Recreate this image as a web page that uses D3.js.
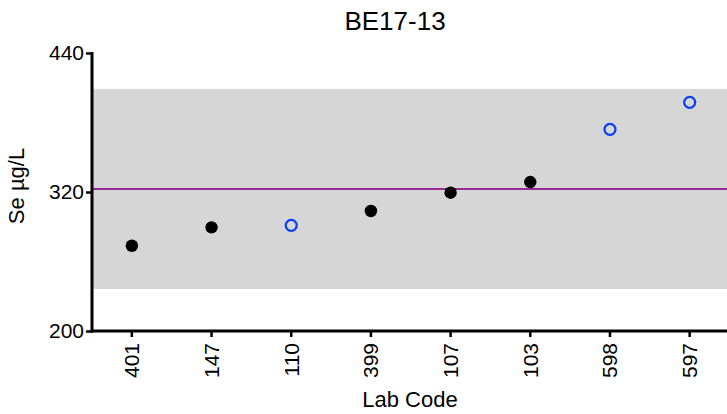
<!DOCTYPE html>
<html><head><meta charset="utf-8">
<script src="https://cdn.jsdelivr.net/npm/d3@7"></script>
<style>body{margin:0;background:#fff}svg{display:block;font-family:"Liberation Sans",Arial,sans-serif}</style>
</head><body><svg id="c" width="727" height="414"></svg>
<script>
const labCodes = ["401","147","110","399","107","103","598","597"];
const values = [273.6, 289.5, 291.2, 303.6, 319.4, 328.6, 374.1, 397.4];
const outlier = [false, false, true, false, false, false, true, true];
const yTicks = [200, 320, 440];
const assigned = 322.6;
const bandLow = 236.3, bandHigh = 409;

const svg = d3.select("#c");
const m = {l:92, r:729.5, t:53, b:331};
const x = d3.scaleBand().domain(labCodes).range([m.l, m.r]);
const y = d3.scaleLinear().domain([200, 440]).range([m.b, m.t]);
const FF = "Liberation Sans, Arial, sans-serif";

svg.append("rect").attr("x", m.l).attr("width", m.r - m.l)
  .attr("y", y(bandHigh)).attr("height", y(bandLow) - y(bandHigh)).attr("fill", "#d6d6d6");
svg.append("line").attr("x1", m.l).attr("x2", 727).attr("y1", y(assigned)).attr("y2", y(assigned))
  .attr("stroke", "#9a2a9a").attr("stroke-width", 2);

const pts = labCodes.map((c,i)=>({c, v:values[i], o:outlier[i]}));
svg.selectAll("circle.f").data(pts.filter(d=>!d.o)).join("circle")
  .attr("cx", d=>x(d.c)+x.bandwidth()/2).attr("cy", d=>y(d.v)).attr("r", 6.2).attr("fill", "#000");
svg.selectAll("circle.o").data(pts.filter(d=>d.o)).join("circle")
  .attr("cx", d=>x(d.c)+x.bandwidth()/2).attr("cy", d=>y(d.v)).attr("r", 5.5)
  .attr("fill", "none").attr("stroke", "#0a3cff").attr("stroke-width", 2.2);

const ya = svg.append("g").attr("transform", `translate(${m.l},0)`)
  .call(d3.axisLeft(y).tickValues(yTicks).tickSize(6).tickPadding(2).tickSizeOuter(0));
ya.attr("font-size", null).attr("font-family", null);
ya.select(".domain").attr("stroke-width", 3).attr("d", `M0,${m.t-1}V${m.b+1.5}`);
ya.selectAll(".tick line").attr("stroke-width", 2.5);
ya.selectAll("text").style("font-size", "21px").attr("fill", "#000").style("font-family", FF);

const xa = svg.append("g").attr("transform", `translate(0,${m.b})`)
  .call(d3.axisBottom(x).tickSize(6).tickSizeOuter(0).tickPadding(4));
xa.attr("font-size", null).attr("font-family", null);
xa.select(".domain").attr("stroke-width", 3).attr("d", `M${m.l-1.5},0H727`);
xa.selectAll(".tick line").attr("stroke-width", 2.5);
xa.selectAll("text").style("font-size", "21px").attr("fill", "#000").style("font-family", FF)
  .attr("transform", "rotate(-90)").attr("text-anchor", "end").attr("x", -12).attr("y", 0).attr("dy", "0.35em");

svg.append("text").attr("x", 395).attr("y", 30).attr("text-anchor", "middle").style("font-size", "26px").text("BE17-13");
svg.append("text").attr("x", 410).attr("y", 407).attr("text-anchor", "middle").style("font-size", "22px").text("Lab Code");
svg.append("text").attr("transform", "translate(24,186) rotate(-90)").attr("text-anchor", "middle").style("font-size", "22px").text("Se µg/L");
</script></body></html>
